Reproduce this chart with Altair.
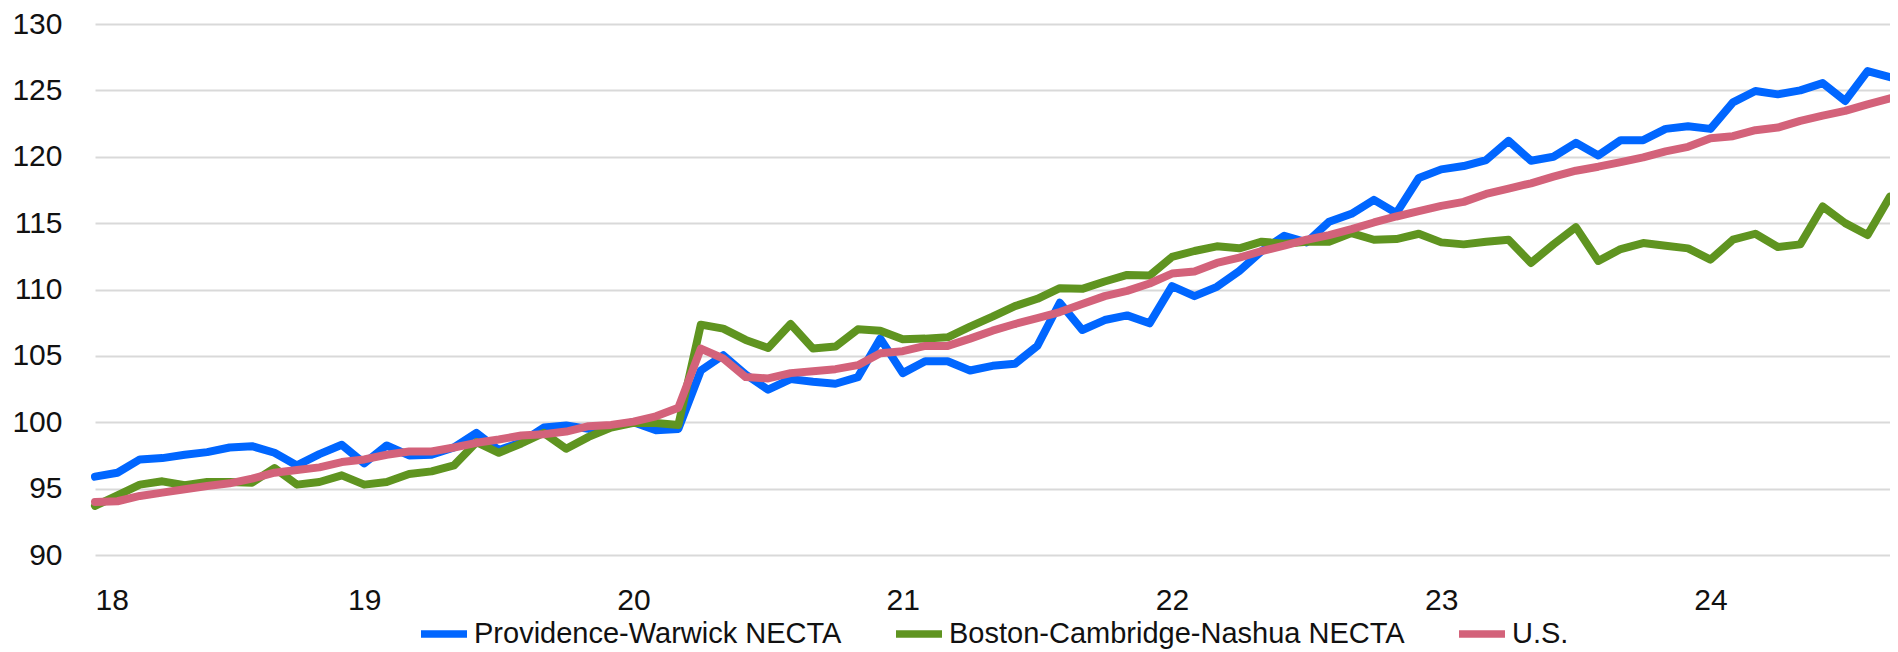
import altair as alt
import pandas as pd

year_labels = ["18", "19", "20", "21", "22", "23", "24"]
series_names = ["Providence-Warwick NECTA", "Boston-Cambridge-Nashua NECTA", "U.S."]
series_colors = ["#0066ff", "#5f9420", "#d3627a"]
y_ticks = [90, 95, 100, 105, 110, 115, 120, 125, 130]

providence = [
    95.9, 96.2, 97.2, 97.3, 97.55, 97.75, 98.1, 98.2, 97.7, 96.75, 97.6, 98.3,
    96.9, 98.25, 97.5, 97.55, 98.1, 99.2, 97.9, 98.5, 99.6, 99.75, 99.5, 99.7,
    100.0, 99.4, 99.5, 103.9, 105.05, 103.6, 102.45, 103.25, 103.05, 102.9, 103.4, 106.3,
    103.7, 104.6, 104.6, 103.9, 104.25, 104.4, 105.75, 109.0, 106.95, 107.7, 108.05, 107.45,
    110.25, 109.5, 110.2, 111.4, 112.9, 114.05, 113.55, 115.1, 115.7, 116.75, 115.75, 118.4,
    119.05, 119.3, 119.75, 121.2, 119.7, 120.0, 121.05, 120.1, 121.25, 121.25, 122.1, 122.3,
    122.1, 124.1, 124.95, 124.7, 125.0, 125.55, 124.2, 126.45, 126.0,
]
boston = [
    93.7, 94.5, 95.3, 95.55, 95.25, 95.5, 95.5, 95.45, 96.55, 95.3, 95.5, 96.0,
    95.3, 95.5, 96.1, 96.3, 96.75, 98.5, 97.7, 98.4, 99.2, 98.0, 98.9, 99.6,
    99.95, 99.95, 99.8, 107.35, 107.05, 106.2, 105.6, 107.4, 105.55, 105.7, 107.0, 106.9,
    106.25, 106.3, 106.4, 107.2, 107.95, 108.75, 109.3, 110.1, 110.05, 110.6, 111.1, 111.05,
    112.45, 112.9, 113.25, 113.1, 113.6, 113.45, 113.6, 113.6, 114.25, 113.75, 113.8, 114.2,
    113.55, 113.4, 113.6, 113.75, 112.0, 113.4, 114.7, 112.15, 113.05, 113.5, 113.3, 113.1,
    112.25, 113.75, 114.2, 113.2, 113.4, 116.25, 115.0, 114.1, 117.0,
]
us = [
    94.0, 94.05, 94.45, 94.7, 94.95, 95.2, 95.4, 95.75, 96.2, 96.4, 96.6, 97.0,
    97.2, 97.55, 97.8, 97.8, 98.1, 98.45, 98.7, 99.0, 99.1, 99.3, 99.7, 99.8,
    100.05, 100.45, 101.1, 105.55, 104.8, 103.4, 103.3, 103.7, 103.85, 104.0, 104.3, 105.2,
    105.35, 105.75, 105.75, 106.3, 106.9, 107.4, 107.85, 108.3, 108.9, 109.5, 109.9, 110.45,
    111.2, 111.35, 112.0, 112.4, 112.9, 113.3, 113.75, 114.1, 114.55, 115.05, 115.5, 115.9,
    116.3, 116.6, 117.2, 117.6, 118.0, 118.5, 118.95, 119.25, 119.6, 119.95, 120.4, 120.75,
    121.4, 121.55, 122.0, 122.2, 122.7, 123.1, 123.45, 123.95, 124.4,
]

rows = []
for name, vals in zip(series_names, [providence, boston, us]):
    for i, v in enumerate(vals):
        rows.append({"month": i, "series": name, "value": v})
df = pd.DataFrame(rows)

n_last = len(providence) - 1
year_ticks = [12 * k for k in range(len(year_labels))]
label_expr = "[" + ",".join("'%s'" % s for s in year_labels) + "][datum.value / 12]"

FONT = "Liberation Sans"

chart = (
    alt.Chart(df)
    .mark_line(strokeWidth=8, strokeJoin="round", strokeCap="round")
    .encode(
        x=alt.X(
            "month:Q",
            scale=alt.Scale(domain=[0, n_last], nice=False, zero=False),
            axis=alt.Axis(
                values=year_ticks,
                labelExpr=label_expr,
                title=None,
                grid=False,
                ticks=False,
                domain=False,
                labelFont=FONT,
                labelFontSize=30,
                labelColor="#111111",
                labelPadding=30,
                labelBaseline="top",
            ),
        ),
        y=alt.Y(
            "value:Q",
            scale=alt.Scale(domain=[90, 130], nice=False, zero=False),
            axis=alt.Axis(
                values=y_ticks,
                title=None,
                grid=True,
                gridColor="#d9d9d9",
                gridWidth=1.8,
                ticks=False,
                domain=False,
                labelFont=FONT,
                labelFontSize=30,
                labelColor="#111111",
                labelPadding=33,
            ),
        ),
        color=alt.Color(
            "series:N",
            scale=alt.Scale(domain=series_names, range=series_colors),
            sort=series_names,
            legend=alt.Legend(
                orient="none",
                legendX=322,
                legendY=583,
                direction="horizontal",
                title=None,
                symbolType="stroke",
                symbolSize=2116,
                symbolStrokeWidth=7.5,
                labelFont=FONT,
                labelFontSize=29,
                labelColor="#111111",
                labelOffset=3,
                columnPadding=39,
                padding=0,
                labelLimit=0,
            ),
        ),
    )
    .properties(
        width=1795,
        height=531,
        autosize=alt.AutoSizeParams(type="none"),
        padding={"left": 87, "top": 16, "right": 0, "bottom": 97},
    )
    .configure_view(stroke=None)
)

chart.save("out.html", embed_options={"renderer": "svg", "actions": False})
